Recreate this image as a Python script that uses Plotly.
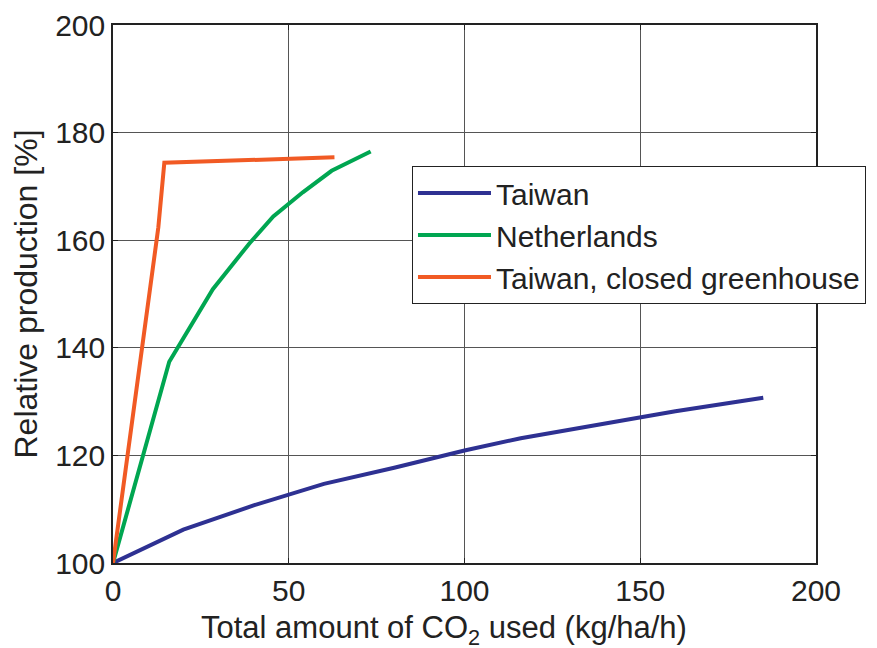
import plotly.graph_objects as go

# Data
taiwan_x = [0, 20, 40, 60, 80, 100, 116, 140, 160, 185]
taiwan_y = [100, 106.2, 110.7, 114.7, 117.7, 120.9, 123.2, 125.9, 128.2, 130.7]

neth_x = [0, 16.0, 28.4, 38.8, 45.6, 54, 62.2, 73.3]
neth_y = [100, 137.4, 150.9, 159.4, 164.4, 168.9, 172.9, 176.5]

closed_x = [0, 12.9, 14.6, 63.0]
closed_y = [100, 162.4, 174.4, 175.4]

series_names = ["Taiwan", "Netherlands", "Taiwan, closed greenhouse"]
series_colors = ["#2e3192", "#00a651", "#f15a24"]

x_ticks = [0, 50, 100, 150, 200]
y_ticks = [100, 120, 140, 160, 180, 200]

x_title = "Total amount of CO<sub>2</sub> used (kg/ha/h)"
y_title = "Relative production [%]"

FONT = "Liberation Sans, Arial, sans-serif"
TXT = "#222222"

fig = go.Figure()
for xs, ys, name, col in zip([taiwan_x, neth_x, closed_x], [taiwan_y, neth_y, closed_y],
                             series_names, series_colors):
    fig.add_trace(go.Scatter(x=xs, y=ys, mode="lines", name=name,
                             line=dict(color=col, width=4)))

axis_common = dict(
    showgrid=True, gridcolor="#555555", gridwidth=1,
    showline=True, linecolor=TXT, linewidth=1.5, mirror="ticks",
    ticks="inside", ticklen=5, tickcolor=TXT,
    zeroline=False, automargin=False,
    tickfont=dict(family=FONT, size=30, color=TXT),
)

fig.update_xaxes(range=[0, 200], tickvals=x_ticks, **axis_common)
fig.update_yaxes(range=[100, 200], tickvals=y_ticks, **axis_common,
                 title=dict(text=y_title, standoff=8,
                            font=dict(family=FONT, size=32, color=TXT)))

fig.add_annotation(text=x_title, xref="paper", yref="paper", x=0.471, y=0,
                   xanchor="center", yanchor="top", yshift=-45, showarrow=False,
                   font=dict(family=FONT, size=31, color=TXT))

fig.update_layout(
    width=877, height=648,
    margin=dict(l=113, r=61, t=25, b=85, autoexpand=False),
    paper_bgcolor="white", plot_bgcolor="white",
    font=dict(family=FONT, color=TXT),
    legend=dict(x=0.4253, y=0.738, xanchor="left", yanchor="top",
                bgcolor="white", bordercolor=TXT, borderwidth=1,
                font=dict(family=FONT, size=30, color=TXT),
                itemwidth=73),
)

fig.write_html("out.html", config={"displayModeBar": False},
               post_script="document.body.style.margin='0';")
